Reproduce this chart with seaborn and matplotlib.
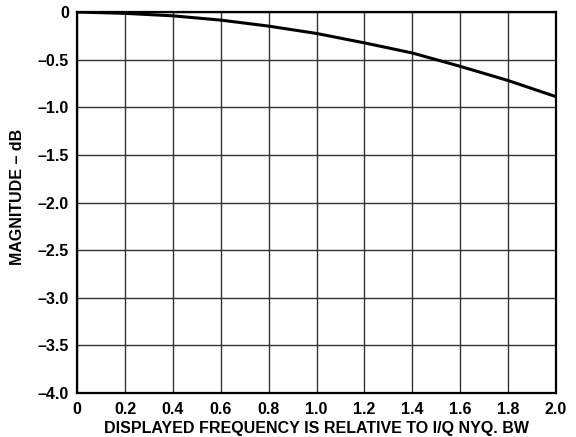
import matplotlib
matplotlib.use("Agg")
import matplotlib.pyplot as plt
import seaborn as sns
import pandas as pd
import numpy as np

# values
freq = [0.0, 0.2, 0.4, 0.6, 0.8, 1.0, 1.2, 1.4, 1.6, 1.8, 2.0]
magnitude = [0.0, -0.014, -0.04, -0.085, -0.148, -0.225, -0.324, -0.43, -0.57, -0.719, -0.888]

x_ticks = [0, 0.2, 0.4, 0.6, 0.8, 1.0, 1.2, 1.4, 1.6, 1.8, 2.0]
x_labels = ['0', '0.2', '0.4', '0.6', '0.8', '1.0', '1.2', '1.4', '1.6', '1.8', '2.0']
y_ticks = [0, -0.5, -1.0, -1.5, -2.0, -2.5, -3.0, -3.5, -4.0]
y_labels = ['0', '–0.5', '–1.0', '–1.5', '–2.0', '–2.5', '–3.0', '–3.5', '–4.0']

sns.set_style('white')
plt.rcParams['font.family'] = ['Liberation Sans', 'DejaVu Sans']
plt.rcParams['font.weight'] = 'bold'
plt.rcParams['text.color'] = 'black'
plt.rcParams['axes.labelcolor'] = 'black'
plt.rcParams['xtick.color'] = 'black'
plt.rcParams['ytick.color'] = 'black'

df = pd.DataFrame({'freq': freq, 'mag': magnitude})

fig = plt.figure(figsize=(5.76, 4.37), dpi=100)
ax = fig.add_axes([0.134, 0.1007, 0.831, 0.8718])

ax.set_xlim(0, 2.0)
ax.set_ylim(-4.0, 0)
ax.set_xticks(x_ticks)
ax.set_xticklabels(x_labels, fontsize=11.5, fontweight='bold')
ax.set_yticks(y_ticks)
ax.set_yticklabels(y_labels, fontsize=11.5, fontweight='bold')
ax.tick_params(axis='x', length=0, pad=6.5)
ax.tick_params(axis='y', length=0, pad=6)
ax.grid(True, color='#333333', linewidth=1.0)
ax.set_axisbelow(True)

sns.lineplot(data=df, x='freq', y='mag', ax=ax, color='black', linewidth=2.2)

for s in ax.spines.values():
    s.set_color('black')
    s.set_linewidth(1.6)

ax.set_xlabel('DISPLAYED FREQUENCY IS RELATIVE TO I/Q NYQ. BW', fontsize=11.5, fontweight='bold', labelpad=3)
ax.set_ylabel('MAGNITUDE – dB', fontsize=11.5, fontweight='bold', labelpad=4)
ax.yaxis.set_label_coords(-0.11, 0.515)

fig.savefig('out.png', dpi=100)
